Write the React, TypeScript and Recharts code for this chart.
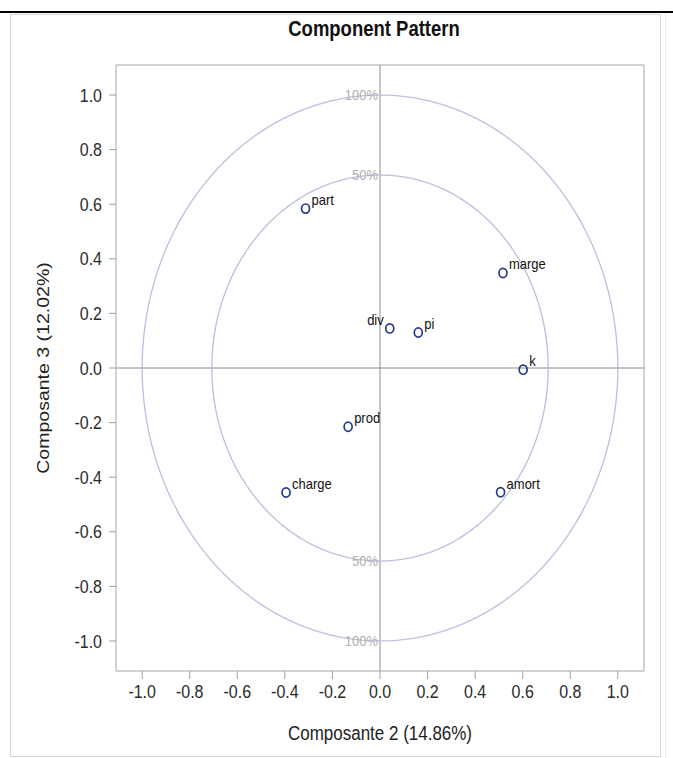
import React from 'react';
import { ScatterChart, Scatter, XAxis, YAxis, ReferenceLine, ReferenceArea, Label } from 'recharts';

// ---- data ----
const variableNames = ['part', 'marge', 'div', 'pi', 'k', 'prod', 'charge', 'amort'];
const comp2Values = [-0.313, 0.517, 0.041, 0.161, 0.602, -0.134, -0.395, 0.507];
const comp3Values = [0.584, 0.348, 0.145, 0.130, -0.006, -0.215, -0.456, -0.455];
const axisTicks = [-1.0, -0.8, -0.6, -0.4, -0.2, 0.0, 0.2, 0.4, 0.6, 0.8, 1.0];
const circleRadii = [1, Math.SQRT1_2];
const circleLabels = ['100%', '50%'];
const leftLabeled = ['div'];
const titleText = 'Component Pattern';
const xLabelText = 'Composante 2 (14.86%)';
const yLabelText = 'Composante 3 (12.02%)';

const DOMAIN: [number, number] = [-1.11, 1.11];
const SY = 1.15;
const FONT = '"Liberation Sans", Arial, Helvetica, sans-serif';
const CIRCLE_COLOR = '#bcc0de';
const MARKER_COLOR = '#253a8a';

const points = variableNames.map((name, i) => ({ name, x: comp2Values[i], y: comp3Values[i] }));

const STEPS = 240;
const circlePoints = circleRadii.map((r) => {
  const pts: { x: number; y: number }[] = [];
  for (let i = 0; i <= STEPS; i++) {
    const a = (i / STEPS) * Math.PI * 2;
    pts.push({ x: r * Math.cos(a), y: r * Math.sin(a) });
  }
  return pts;
});

const pctLabelPoints = circleRadii.flatMap((r, i) => [
  { x: 0, y: r, label: circleLabels[i] },
  { x: 0, y: -r, label: circleLabels[i] },
]);

type STextProps = {
  x: number;
  y: number;
  children: React.ReactNode;
  anchor?: 'start' | 'middle' | 'end';
  size: number;
  weight?: string | number;
  fill?: string;
  rotate?: boolean;
};

function SText({ x, y, children, anchor = 'middle', size, weight = 'normal', fill = '#222', rotate = false }: STextProps) {
  const t = rotate
    ? `translate(${x},${y}) scale(1,${SY}) rotate(-90)`
    : `translate(${x},${y}) scale(1,${SY})`;
  return (
    <text
      transform={t}
      x={0}
      y={0}
      dy="0.36em"
      textAnchor={anchor}
      fontSize={size}
      fontWeight={weight}
      fill={fill}
      fontFamily={FONT}
    >
      {children}
    </text>
  );
}

const fmt = (v: number) => (Math.abs(v) < 1e-9 ? '0.0' : v.toFixed(1));

const XTick = (p: any) => (
  <SText x={p.x} y={p.y + 10} size={16} fill="#2b2b2b">
    {fmt(p.payload.value)}
  </SText>
);

const YTick = (p: any) => (
  <SText x={p.x} y={p.y} anchor="end" size={16} fill="#2b2b2b">
    {fmt(p.payload.value)}
  </SText>
);

const EmptyShape = () => <g />;

const MarkerShape = (p: any) => {
  const { cx, cy, payload } = p;
  const left = leftLabeled.includes(payload.name);
  return (
    <g>
      <ellipse cx={cx} cy={cy} rx={4} ry={4.6} fill="none" stroke={MARKER_COLOR} strokeWidth={1.7} />
      <SText x={left ? cx - 6 : cx + 6} y={cy - 9} anchor={left ? 'end' : 'start'} size={13} fill="#111">
        {payload.name}
      </SText>
    </g>
  );
};

const PctShape = (p: any) => (
  <SText x={p.cx - 2} y={p.cy} anchor="end" size={13} fill="#b0b0b0">
    {p.payload.label}
  </SText>
);

export default function App() {
  return (
    <div style={{ position: 'absolute', left: 0, top: 0, width: 673, height: 758, background: '#fff' }}>
      <svg width={673} height={758} style={{ position: 'absolute', left: 0, top: 0 }}>
        <rect x={0} y={0} width={673} height={758} fill="#fff" />
        <line x1={0} x2={673} y1={12} y2={12} stroke="#000" strokeWidth={2} />
        <rect x={10.5} y={14.5} width={650} height={742} fill="none" stroke="#d6d6d6" strokeWidth={1} />
        <line x1={665.5} x2={665.5} y1={14} y2={758} stroke="#ececec" strokeWidth={1} />
        <SText x={374} y={28} size={18.5} weight="bold" fill="#111">
          {titleText}
        </SText>
      </svg>
      <div style={{ position: 'absolute', left: 0, top: 0 }}>
        <ScatterChart width={673} height={758} margin={{ top: 65, right: 29, bottom: 27, left: 56 }}>
          <XAxis
            type="number"
            dataKey="x"
            domain={DOMAIN}
            ticks={axisTicks}
            allowDataOverflow
            height={60}
            tickSize={8}
            tickMargin={2}
            axisLine={false}
            tickLine={{ stroke: '#a0a0a0' }}
            tick={XTick}
            interval={0}
          >
            <Label
              content={(lp: any) => {
                const vb = lp.viewBox || { x: 116, y: 671, width: 528 };
                return (
                  <SText x={vb.x + vb.width / 2} y={vb.y + 62} size={17} fill="#222">
                    {xLabelText}
                  </SText>
                );
              }}
            />
          </XAxis>
          <YAxis
            type="number"
            dataKey="y"
            domain={DOMAIN}
            ticks={axisTicks}
            allowDataOverflow
            width={60}
            tickSize={7}
            tickMargin={7}
            axisLine={false}
            tickLine={{ stroke: '#a0a0a0' }}
            tick={YTick}
            interval={0}
          >
            <Label
              content={(lp: any) => {
                const vb = lp.viewBox || { x: 56, y: 65, height: 606 };
                return (
                  <SText x={43} y={vb.y + vb.height / 2} size={17} fill="#222" rotate>
                    {yLabelText}
                  </SText>
                );
              }}
            />
          </YAxis>
          <ReferenceArea
            x1={DOMAIN[0]}
            x2={DOMAIN[1]}
            y1={DOMAIN[0]}
            y2={DOMAIN[1]}
            fill="none"
            fillOpacity={0}
            stroke="#a6a6a6"
            strokeWidth={1}
            ifOverflow="visible"
          />
          <ReferenceLine x={0} stroke="#8c8c8c" strokeWidth={1} />
          <ReferenceLine y={0} stroke="#8c8c8c" strokeWidth={1} />
          {circlePoints.map((pts, i) => (
            <Scatter
              key={'c' + i}
              data={pts}
              line={{ stroke: CIRCLE_COLOR, strokeWidth: 1.3 }}
              lineType="joint"
              shape={EmptyShape}
              isAnimationActive={false}
            />
          ))}
          <Scatter data={pctLabelPoints} shape={PctShape} isAnimationActive={false} />
          <Scatter data={points} shape={MarkerShape} isAnimationActive={false} />
        </ScatterChart>
      </div>
    </div>
  );
}
